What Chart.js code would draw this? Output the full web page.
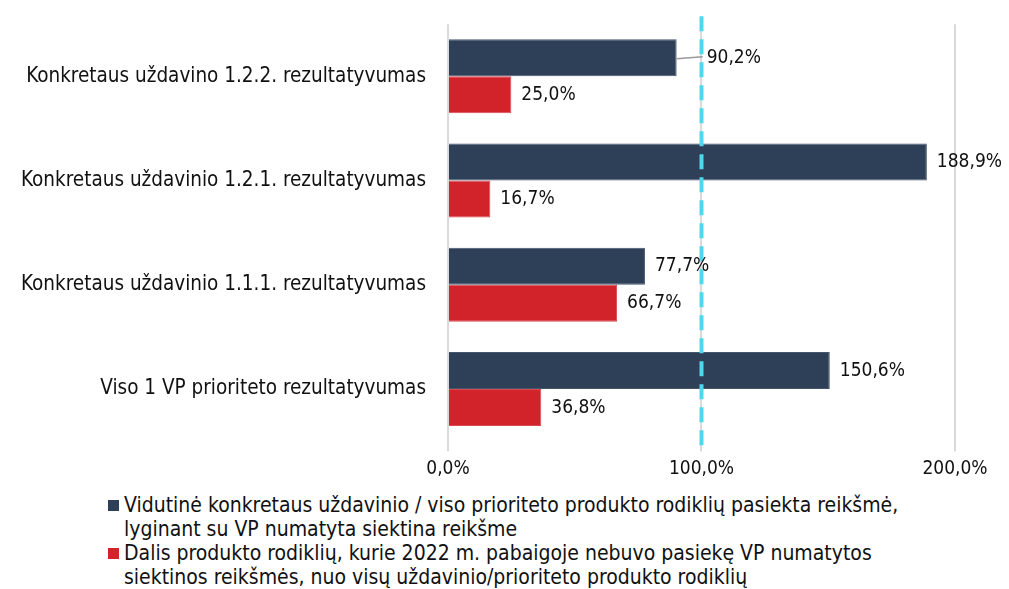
<!DOCTYPE html>
<html>
<head>
<meta charset="utf-8">
<script src="https://cdn.jsdelivr.net/npm/chart.js@4/dist/chart.umd.min.js"></script>
<style>
  body { margin: 0; background: #fff; font-family: "DejaVu Sans Condensed", "DejaVu Sans", sans-serif; }
  #wrap { position: relative; width: 1009px; height: 486px; }
  #legend { margin: 7px 0 0 108px; width: 820px; font-size: 21px; color: #111; line-height: 24px; }
  #legend .item { display: flex; align-items: flex-start; }
  #legend .box { width: 11px; height: 11px; margin: 7px 5px 0 0; flex: none; }
</style>
</head>
<body>
<div id="wrap"><canvas id="chart"></canvas></div>
<div id="legend"></div>
<script>
const categories = [
  "Konkretaus uždavino 1.2.2. rezultatyvumas",
  "Konkretaus uždavinio 1.2.1. rezultatyvumas",
  "Konkretaus uždavinio 1.1.1. rezultatyvumas",
  "Viso 1 VP prioriteto rezultatyvumas"
]
const reached = [90.2, 188.9, 77.7, 150.6]
const notReached = [25.0, 16.7, 66.7, 36.8]
const seriesNames = [
  "Vidutinė konkretaus uždavinio / viso prioriteto produkto rodiklių pasiekta reikšmė, lyginant su VP numatyta siektina reikšme",
  "Dalis produkto rodiklių, kurie 2022 m. pabaigoje nebuvo pasiekę VP numatytos siektinos reikšmės, nuo visų uždavinio/prioriteto produkto rodiklių"
]
const target = 100

const FONT = "'DejaVu Sans Condensed', 'DejaVu Sans', sans-serif"
const fmt = v => v.toFixed(1).replace(".", ",") + "%"

// dashed target line across the plot
const targetLine = {
  id: "targetLine",
  afterDatasetsDraw(chart) {
    const { ctx, chartArea, scales } = chart
    const x = scales.x.getPixelForValue(target)
    ctx.save()
    ctx.strokeStyle = "#4dd8ee"
    ctx.lineWidth = 4
    ctx.setLineDash([15, 8])
    ctx.beginPath()
    ctx.moveTo(x, chartArea.top - 8)
    ctx.lineTo(x, chartArea.bottom + 6)
    ctx.stroke()
    ctx.restore()
  }
}

// value labels at bar ends
const barLabels = {
  id: "barLabels",
  afterDraw(chart, args, opts) {
    const { ctx } = chart
    ctx.save()
    ctx.font = "19px " + FONT
    ctx.fillStyle = "#111"
    ctx.textBaseline = "middle"
    chart.data.datasets.forEach((ds, di) => {
      chart.getDatasetMeta(di).data.forEach((bar, i) => {
        let x = bar.x + 10
        const lead = opts.leader
        if (lead && lead.dataset === di && lead.index === i) {
          x = bar.x + lead.dx
          ctx.strokeStyle = "#999"
          ctx.lineWidth = 1.5
          ctx.beginPath()
          ctx.moveTo(bar.x, bar.y + 1)
          ctx.lineTo(x - 4, bar.y - 1)
          ctx.stroke()
        }
        ctx.fillText(fmt(ds.data[i]), x, bar.y)
      })
    })
    ctx.restore()
  }
}

const chart = new Chart(document.getElementById("chart"), {
  type: "bar",
  data: {
    labels: categories,
    datasets: [
      { label: seriesNames[0], data: reached, backgroundColor: "#2e3f58", borderColor: "#46566c", borderWidth: 1 },
      { label: seriesNames[1], data: notReached, backgroundColor: "#d2232a", borderColor: "#d84a50", borderWidth: 1 }
    ]
  },
  options: {
    indexAxis: "y",
    responsive: true,
    maintainAspectRatio: false,
    animation: false,
    datasets: { bar: { categoryPercentage: 0.71, barPercentage: 1.0 } },
    layout: { padding: { top: 16, right: 54, left: 7 } },
    plugins: {
      legend: { display: false },
      tooltip: { enabled: false },
      barLabels: { leader: { dataset: 0, index: 0, dx: 30 } }
    },
    scales: {
      x: {
        min: 0, max: 200,
        ticks: { stepSize: 100, callback: v => fmt(v), color: "#111", font: { family: FONT, size: 19 }, padding: 6 },
        grid: { color: "#d9d9d9", lineWidth: 2, tickLength: 10 },
        border: { display: false }
      },
      y: {
        ticks: { color: "#111", font: { family: FONT, size: 20.5, lineHeight: 1 }, padding: 14 },
        grid: { display: false },
        border: { display: false }
      }
    }
  },
  plugins: [targetLine, barLabels]
})

const legend = document.getElementById("legend")
chart.data.datasets.forEach(ds => {
  const item = document.createElement("div")
  item.className = "item"
  item.innerHTML = '<span class="box" style="background:' + ds.backgroundColor + '"></span><span>' + ds.label + "</span>"
  legend.appendChild(item)
})
</script>
</body>
</html>
